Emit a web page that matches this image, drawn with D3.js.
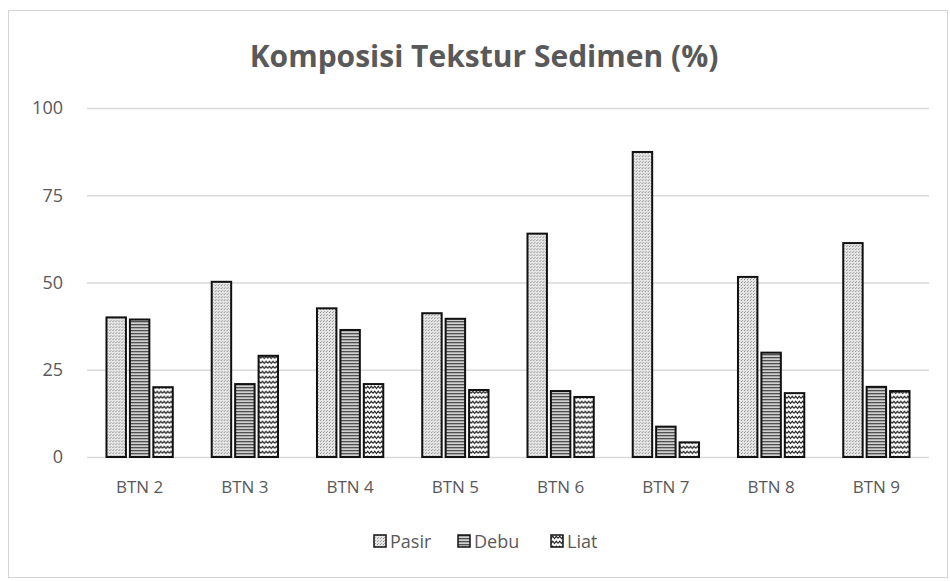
<!DOCTYPE html>
<html>
<head>
<meta charset="utf-8">
<script src="https://cdn.jsdelivr.net/npm/d3@7"></script>
<style>
  body { margin: 0; background: #fff; }
  svg { display: block; font-family: 'Open Sans', sans-serif; }
</style>
</head>
<body>
<div id="chart"></div>
<script>
const categories = ['BTN 2', 'BTN 3', 'BTN 4', 'BTN 5', 'BTN 6', 'BTN 7', 'BTN 8', 'BTN 9'];
const seriesNames = ['Pasir', 'Debu', 'Liat'];
const pasir = [40.0, 50.2, 42.6, 41.2, 64.0, 87.4, 51.6, 61.3];
const debu  = [39.4, 20.9, 36.4, 39.6, 18.9, 8.7, 29.9, 20.1];
const liat  = [20.0, 29.0, 20.9, 19.2, 17.2, 4.2, 18.3, 18.9];
const yTicks = [0, 25, 50, 75, 100];
const chartTitle = 'Komposisi Tekstur Sedimen (%)';

const W = 950, H = 581;
const plot = { left: 87, right: 929, top: 108, bottom: 457 };
const textGrey = '#595959';

const svg = d3.select('#chart').append('svg')
  .attr('width', W)
  .attr('height', H);

// fill patterns, one per series
const defs = svg.append('defs');

const pPasir = defs.append('pattern')
  .attr('id', 'pat-Pasir')
  .attr('patternUnits', 'userSpaceOnUse')
  .attr('width', 3).attr('height', 3);
pPasir.append('rect').attr('width', 3).attr('height', 3).attr('fill', '#e6e6e6');
pPasir.append('rect').attr('x', 0).attr('y', 0).attr('width', 1).attr('height', 1).attr('fill', '#8c8c8c');
pPasir.append('rect').attr('x', 1).attr('y', 2).attr('width', 1).attr('height', 1).attr('fill', '#a6a6a6');

const pDebu = defs.append('pattern')
  .attr('id', 'pat-Debu')
  .attr('patternUnits', 'userSpaceOnUse')
  .attr('width', 4).attr('height', 3);
pDebu.append('rect').attr('width', 4).attr('height', 3).attr('fill', '#d0d0d0');
pDebu.append('rect').attr('y', 0).attr('width', 4).attr('height', 1.3).attr('fill', '#505050');

const pLiat = defs.append('pattern')
  .attr('id', 'pat-Liat')
  .attr('patternUnits', 'userSpaceOnUse')
  .attr('width', 7).attr('height', 5);
pLiat.append('rect').attr('width', 7).attr('height', 5).attr('fill', '#ffffff');
pLiat.append('path')
  .attr('d', 'M0,3.5 L1.75,1.2 L3.5,3.5 L5.25,1.2 L7,3.5')
  .attr('fill', 'none')
  .attr('stroke', '#222')
  .attr('stroke-width', 1.1);

// chart frame
svg.append('rect')
  .attr('x', 8.5).attr('y', 10.5)
  .attr('width', 939).attr('height', 567)
  .attr('fill', 'none')
  .attr('stroke', '#d4d4d4')
  .attr('stroke-width', 1);

const x0 = d3.scaleBand()
  .domain(categories)
  .range([plot.left, plot.right]);

const groupW = x0.bandwidth() * 0.63;
const x1 = d3.scaleBand()
  .domain(seriesNames)
  .range([0, groupW])
  .paddingInner(0.17);

const y = d3.scaleLinear()
  .domain([0, 100])
  .range([plot.bottom, plot.top]);

// gridlines
const grid = svg.append('g')
  .attr('transform', `translate(${plot.left},0)`)
  .call(d3.axisLeft(y).tickValues(yTicks).tickSize(-(plot.right - plot.left)).tickFormat(''));
grid.select('.domain').remove();
grid.selectAll('.tick line')
  .attr('stroke', '#d9d9d9')
  .attr('stroke-width', 1.5);

// y tick labels
const yAxis = svg.append('g')
  .attr('transform', `translate(${plot.left - 24},0)`)
  .call(d3.axisLeft(y).tickValues(yTicks).tickSize(0).tickPadding(0));
yAxis.select('.domain').remove();
yAxis.selectAll('text')
  .attr('fill', textGrey)
  .style('font-size', '18px')
  .style('font-family', "'Open Sans', sans-serif");

// x axis labels
const xAxis = svg.append('g')
  .attr('transform', `translate(0,${plot.bottom})`)
  .call(d3.axisBottom(x0).tickSize(0).tickPadding(24));
xAxis.select('.domain').remove();
xAxis.selectAll('text')
  .attr('fill', textGrey)
  .style('font-size', '17px')
  .style('font-family', "'Open Sans', sans-serif");

// bars
const rows = categories.map((c, i) => ({ category: c, Pasir: pasir[i], Debu: debu[i], Liat: liat[i] }));

const groups = svg.append('g').selectAll('g')
  .data(rows)
  .enter()
  .append('g')
  .attr('transform', (d) => `translate(${x0(d.category) + (x0.bandwidth() - groupW) / 2},0)`);

groups.selectAll('rect')
  .data((d) => seriesNames.map((s) => ({ key: s, value: d[s] })))
  .enter()
  .append('rect')
  .attr('x', (d) => x1(d.key))
  .attr('y', (d) => y(d.value))
  .attr('width', x1.bandwidth())
  .attr('height', (d) => y(0) - y(d.value))
  .attr('fill', (d) => `url(#pat-${d.key})`)
  .attr('stroke', '#111')
  .attr('stroke-width', 2);

// title
svg.append('text')
  .attr('x', 484)
  .attr('y', 67)
  .attr('text-anchor', 'middle')
  .attr('fill', textGrey)
  .style('font-size', '30px')
  .style('font-weight', 700)
  .text(chartTitle);

// legend
const legendX = [374, 458, 551];
const legend = svg.append('g').selectAll('g')
  .data(seriesNames)
  .enter()
  .append('g')
  .attr('transform', (d, i) => `translate(${legendX[i]},535)`);

legend.append('rect')
  .attr('width', 12).attr('height', 12)
  .attr('fill', (d) => `url(#pat-${d})`)
  .attr('stroke', '#111')
  .attr('stroke-width', 1.5);

legend.append('text')
  .attr('x', 16)
  .attr('y', 13)
  .attr('fill', textGrey)
  .style('font-size', '18px')
  .text((d) => d);
</script>
</body>
</html>
